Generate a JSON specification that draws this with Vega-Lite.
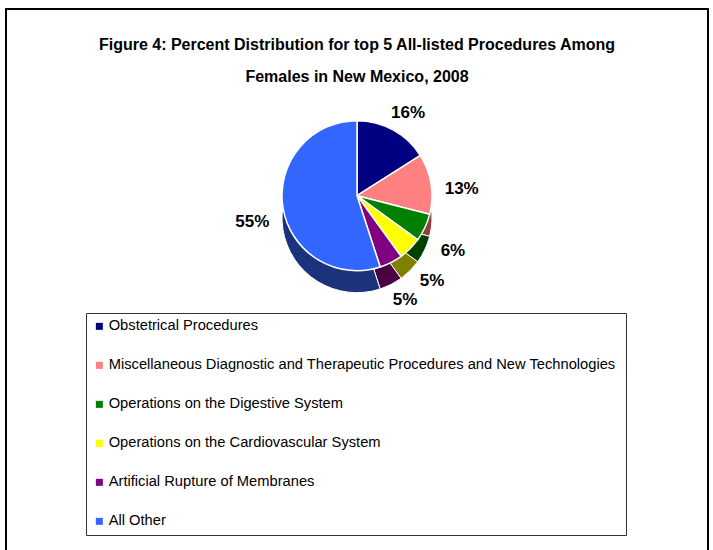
{
  "$schema": "https://vega.github.io/schema/vega-lite/v6.json",
  "autosize": {"type": "none"},
  "padding": {"left": 6, "top": 9, "right": 5, "bottom": 0},
  "width": 702,
  "height": 560,
  "background": "white",
  "view": {"stroke": "#000000", "strokeWidth": 2, "fill": "white"},
  "config": {
    "font": "Liberation Sans"
  },
  "title": {
    "text": ["Figure 4: Percent Distribution for top 5 All-listed Procedures Among", "Females in New Mexico, 2008"],
    "font": "Liberation Sans",
    "fontSize": 16,
    "fontWeight": "bold",
    "lineHeight": 32,
    "anchor": "middle",
    "frame": "group",
    "orient": "top",
    "offset": -76,
    "color": "#000000"
  },
  "data": {
    "values": [
      {"category": "Obstetrical Procedures", "value": 16, "label": "16%", "idx": 1},
      {"category": "Miscellaneous Diagnostic and Therapeutic Procedures and New  Technologies", "value": 13, "label": "13%", "idx": 2},
      {"category": "Operations on the Digestive System", "value": 6, "label": "6%", "idx": 3},
      {"category": "Operations on the Cardiovascular System", "value": 5, "label": "5%", "idx": 4},
      {"category": "Artificial Rupture of Membranes", "value": 5, "label": "5%", "idx": 5},
      {"category": "All Other", "value": 55, "label": "55%", "idx": 6}
    ]
  },
  "layer": [
    {
      "mark": {"type": "arc", "radius": 75, "y": {"expr": "height / 3"}, "yOffset": 22, "stroke": "white", "strokeWidth": 1},
      "encoding": {
        "theta": {"field": "value", "type": "quantitative", "stack": true},
        "order": {"field": "idx", "type": "quantitative"},
        "color": {
          "field": "category", "type": "nominal", "legend": null,
          "scale": {
            "domain": ["Obstetrical Procedures", "Miscellaneous Diagnostic and Therapeutic Procedures and New  Technologies", "Operations on the Digestive System", "Operations on the Cardiovascular System", "Artificial Rupture of Membranes", "All Other"],
            "range": ["#00004d", "#8c4040", "#004000", "#808000", "#4a0042", "#1a337c"]
          }
        }
      }
    },
    {
      "mark": {"type": "arc", "radius": 75, "y": {"expr": "height / 3"}, "stroke": "white", "strokeWidth": 1.5},
      "encoding": {
        "theta": {"field": "value", "type": "quantitative", "stack": true},
        "order": {"field": "idx", "type": "quantitative"},
        "color": {
          "field": "category", "type": "nominal",
          "scale": {
            "domain": ["Obstetrical Procedures", "Miscellaneous Diagnostic and Therapeutic Procedures and New  Technologies", "Operations on the Digestive System", "Operations on the Cardiovascular System", "Artificial Rupture of Membranes", "All Other"],
            "range": ["#000080", "#ff8080", "#008000", "#ffff00", "#800080", "#3366ff"]
          },
          "legend": {
            "title": null,
            "orient": "none",
            "legendX": 80,
            "legendY": 304,
            "direction": "vertical",
            "padding": 6,
            "strokeColor": "#333333",
            "fillColor": "white",
            "symbolType": "square",
            "symbolSize": 49,
            "symbolStrokeWidth": 0,
            "symbolOpacity": 1,
            "labelFont": "Liberation Sans",
            "labelFontSize": 14.7,
            "labelColor": "#000000",
            "labelLimit": 1000,
            "labelOffset": 2,
            "rowPadding": 23,
            "encode": {"legend": {"update": {"strokeWidth": {"value": 1.5}}}}
          }
        }
      }
    },
    {
      "mark": {"type": "text", "radius": 106, "y": {"expr": "height / 3"}, "yOffset": 10, "font": "Liberation Sans", "fontSize": 17, "fontWeight": "bold", "color": "#000000"},
      "encoding": {
        "theta": {"field": "value", "type": "quantitative", "stack": true},
        "order": {"field": "idx", "type": "quantitative"},
        "text": {"field": "label", "type": "nominal"}
      }
    }
  ],
  "resolve": {"scale": {"color": "independent"}}
}
